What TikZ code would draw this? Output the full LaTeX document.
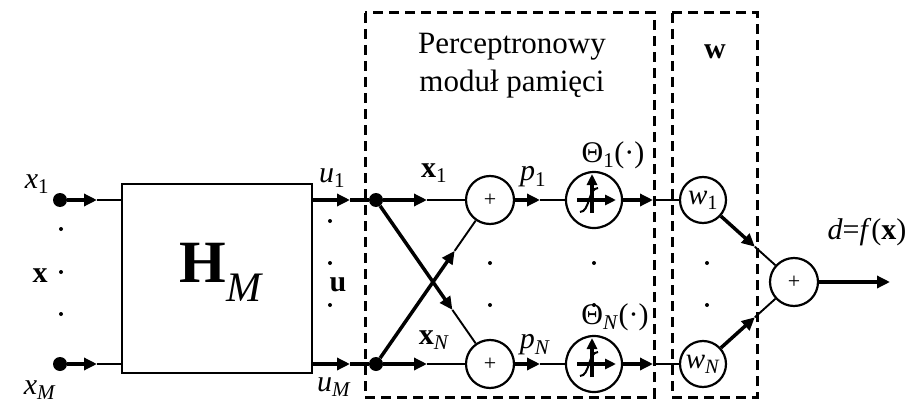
\documentclass[tikz,border=0pt]{standalone}
\usepackage{fontspec}
\setmainfont{Liberation Serif}
\usetikzlibrary{arrows.meta,calc}
\begin{document}
\begin{tikzpicture}[x=1pt,y=-1pt,
  thn/.style={line width=1.9pt},
  thk/.style={line width=3.5pt,-{Triangle[length=13pt,width=12pt]}},
  thkplain/.style={line width=3.5pt},
  circ/.style={circle,draw,line width=2.2pt,inner sep=0pt},
  jdot/.style={circle,fill,inner sep=0pt,minimum size=14pt},
  sdot/.style={circle,fill,inner sep=0pt,minimum size=4pt},
  lbl/.style={font=\fontsize{30}{34}\selectfont,inner sep=0pt},
  dashbox/.style={draw,dash pattern=on 10pt off 6pt,line width=3pt},
  plus/.style={circ,minimum size=48pt,font=\fontsize{22}{24}\selectfont},
  thr/.style={circ,minimum size=56pt},
  wc/.style={circ,minimum size=46pt,font=\fontsize{29}{30}\selectfont},
]
\useasboundingbox (0,0) rectangle (913,404);
% dashed boxes
\draw[dashbox] (365,13) rectangle (654,397);
\draw[dashbox] (672,13) rectangle (757,397);
% input dots
\node[jdot] (i1) at (60,200) {};
\node[jdot] (iM) at (60,364) {};
\coordinate (ia1) at (97,200);
\coordinate (iaM) at (97,364);
% H box
\node[draw,line width=2.4pt,minimum width=190pt,minimum height=189pt,inner sep=0pt] (H) at (217,278.5) {};
\node[inner sep=0pt,font=\fontsize{60}{64}\selectfont] (HM) at (222,272) {\textbf{H}\textsubscript{\textit{M}}};
\draw[thk] (i1) -- (ia1);
\draw[thn] (ia1) -- (H.west |- ia1);
\draw[thk] (iM) -- (iaM);
\draw[thn] (iaM) -- (H.west |- iaM);
% input labels
\node[lbl] (lx1) at (37,184) {\textit{x}\textsubscript{1}};
\node[lbl] (lxM) at (40,390) {\textit{x}\textsubscript{\textit{M}}};
\node[lbl] (lx) at (40,276) {\textbf{x}};
\foreach \y in {229,272,314} \node[sdot] at (61,\y) {};
% junction dots
\node[jdot] (j1) at (376,200) {};
\node[jdot] (jN) at (376,364) {};
\coordinate (ua1) at (350,200);
\coordinate (uaM) at (350,364);
\draw[thk] (H.east |- ua1) -- (ua1);
\draw[thkplain] (ua1) -- (j1);
\draw[thk] (H.east |- uaM) -- (uaM);
\draw[thkplain] (uaM) -- (jN);
\node[lbl] (lu1) at (332,178) {\textit{u}\textsubscript{1}};
\node[lbl] (luM) at (334,387) {\textit{u}\textsubscript{\textit{M}}};
\node[lbl] (lu) at (338,285) {\textbf{u}};
\foreach \y in {221,263,305} \node[sdot] at (330,\y) {};
% plus circles
\node[plus] (P1) at (490,200) {+};
\node[plus] (PN) at (490,364) {+};
\coordinate (xa1) at (427,200);
\coordinate (xaN) at (427,364);
\draw[thk] (j1) -- (xa1);
\draw[thn] (xa1) -- (P1);
\draw[thk] (jN) -- (xaN);
\draw[thn] (xaN) -- (PN);
\coordinate (c1) at ($(j1)!0.67!(PN)$);
\coordinate (c2) at ($(jN)!0.69!(P1)$);
\draw[thk] (j1) -- (c1);
\draw[thn] (c1) -- (PN);
\draw[thk] (jN) -- (c2);
\draw[thn] (c2) -- (P1);
\node[lbl] (lX1) at (434,173) {\textbf{x}\textsubscript{1}};
\node[lbl] (lXN) at (434,340) {\textbf{x}\textsubscript{\textit{N}}};
\foreach \y in {263,305} \node[sdot] at (490,\y) {};
% threshold circles
\node[thr] (T1) at (594,200) {};
\node[thr] (TN) at (594,364) {};
\coordinate (pa1) at (540,200);
\coordinate (paN) at (540,364);
\draw[thk] (P1) -- (pa1);
\draw[thn] (pa1) -- (T1);
\draw[thk] (PN) -- (paN);
\draw[thn] (paN) -- (TN);
\node[lbl] (lp1) at (533,177) {\textit{p}\textsubscript{1}};
\node[lbl] (lpN) at (535,345) {\textit{p}\textsubscript{\textit{N}}};
\foreach \c in {T1,TN}{
  \draw[line width=3.2pt,-{Triangle[length=11pt,width=10pt]}] ($(\c)+(-2,13)$) -- ($(\c)+(-2,-26)$);
  \draw[line width=3.2pt,-{Triangle[length=11pt,width=10pt]}] ($(\c)+(-17,0)$) -- ($(\c)+(22,0)$);
  \draw[line width=2pt] ($(\c)+(-14,12)$) .. controls ($(\c)+(-4,12)$) and ($(\c)+(-6,-12)$) .. ($(\c)+(4,-12)$);
}
\node[lbl] (lT1) at (613,155) {Θ\textsubscript{1}(·)};
\node[lbl] (lTN) at (615,317) {Θ\textsubscript{\textit{N}}(·)};
\foreach \y in {263,305} \node[sdot] at (594,\y) {};
% w circles
\node[wc] (W1) at (703,200) {\textit{w}\textsubscript{1}};
\node[wc] (WN) at (703,364) {\textit{w}\textsubscript{\textit{N}}};
\coordinate (ta1) at (653,200);
\coordinate (taN) at (653,364);
\draw[thk] (T1) -- (ta1);
\draw[thn] (ta1) -- (W1);
\draw[thk] (TN) -- (taN);
\draw[thn] (taN) -- (WN);
\foreach \y in {263,305} \node[sdot] at (707,\y) {};
\node[lbl] (lw) at (715,52) {\textbf{w}};
% output sum
\node[plus] (S) at (794,282) {+};
\coordinate (wa1) at ($(W1)!0.57!(S)$);
\coordinate (waN) at ($(WN)!0.57!(S)$);
\draw[thk] (W1) -- (wa1);
\draw[thn] (wa1) -- (S);
\draw[thk] (WN) -- (waN);
\draw[thn] (waN) -- (S);
\coordinate (out) at (890,282);
\draw[thk] (S) -- (out);
\node[lbl] (ld) at (867,232) {\textit{d}=\textit{f}(\textbf{x})};
% title
\node[lbl,align=center,font=\fontsize{31}{38}\selectfont] (title) at (512,66) {Perceptronowy\\moduł pamięci};
\end{tikzpicture}
\end{document}
